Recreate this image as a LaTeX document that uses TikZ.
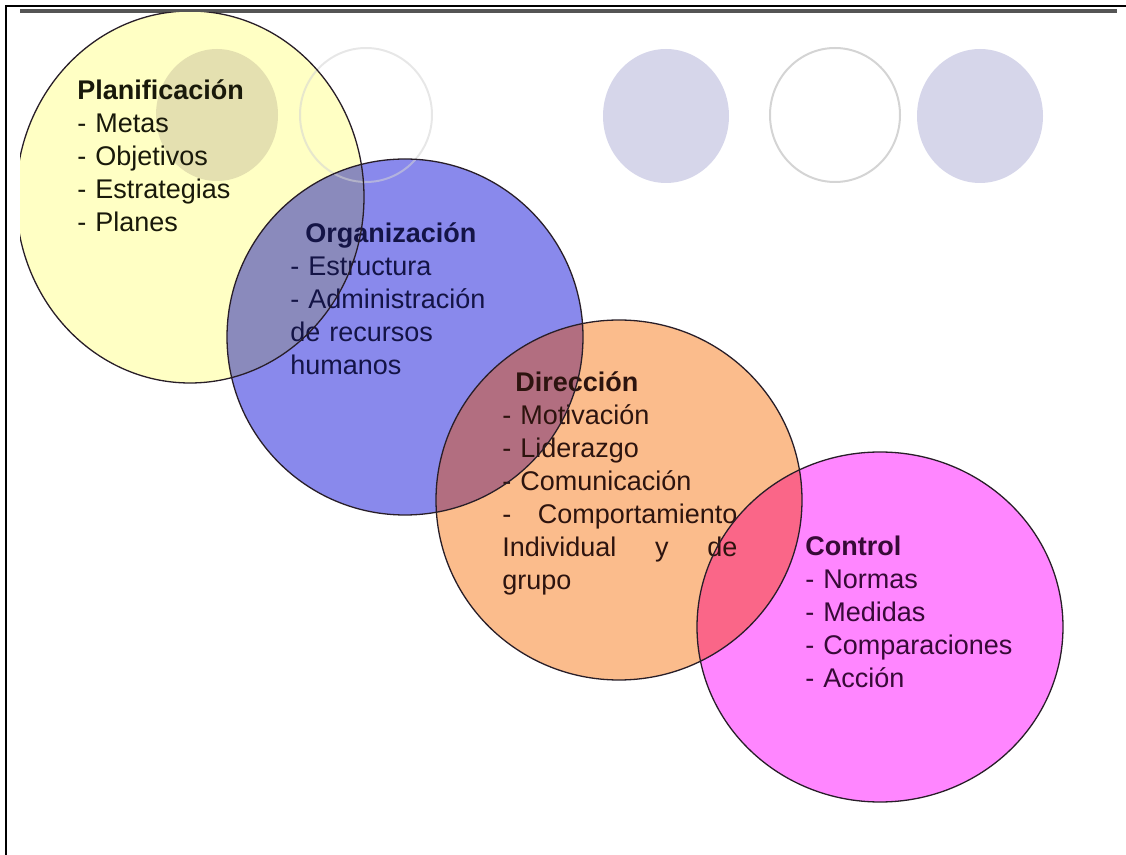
\documentclass[tikz,border=0pt]{standalone}
\usepackage{fontspec}
\setmainfont{Liberation Sans}

\definecolor{plancol}{RGB}{255,255,196}
\definecolor{orgcol}{RGB}{137,137,236}
\definecolor{dircol}{RGB}{251,188,140}
\definecolor{ctrlcol}{RGB}{255,134,255}
\definecolor{planorg}{RGB}{138,138,188}
\definecolor{orgdir}{RGB}{178,110,128}
\definecolor{dirctrl}{RGB}{250,102,136}
\definecolor{decocol}{RGB}{214,214,234}
\definecolor{decoplan}{RGB}{228,224,176}
\definecolor{ringcol}{RGB}{212,212,212}
\definecolor{edgecol}{RGB}{40,30,40}
\definecolor{barcol}{RGB}{85,85,85}
\definecolor{plantext}{RGB}{25,25,10}
\definecolor{orgtext}{RGB}{20,20,70}
\definecolor{dirtext}{RGB}{45,20,15}
\definecolor{ctrltext}{RGB}{55,10,55}

\tikzset{
  block/.style={anchor=base west, inner sep=0pt, align=left, text width=#1,
    font=\fontsize{13.5}{16.5}\selectfont},
  edge/.style={draw=edgecol, line width=0.65pt},
  ring/.style={draw=ringcol, line width=1pt},
}

\begin{document}
\begin{tikzpicture}[x=0.5pt,y=-0.5pt]
\useasboundingbox (0,0) rectangle (1126,855);

% page frame and top bar
\draw[line width=1pt] (6,855) -- (6,6) -- (1126,6);
\fill[barcol] (20,9) rectangle (1117,13);

\coordinate (cplan) at (190,197);
\coordinate (corg) at (405,337);
\coordinate (cdir) at (619,500);
\coordinate (cctrl) at (880,627);
\def\plan{(cplan) ellipse [x radius=174, y radius=186]}
\def\org{(corg) circle [radius=178]}
\def\dir{(cdir) ellipse [x radius=183, y radius=180]}
\def\ctrl{(cctrl) ellipse [x radius=183, y radius=175]}

\begin{scope}
\clip (20,13) rectangle (1117,855);

% background circles of the slide
\foreach \cx/\cy in {666/116,980/116}
  \fill[decocol] (\cx,\cy) ellipse [x radius=63, y radius=67];
\draw[ring] (835,115) ellipse [x radius=65, y radius=67];

% the four circles
\fill[plancol] \plan;
\fill[orgcol] \org;
\fill[dircol] \dir;
\fill[ctrlcol] \ctrl;

% overlaps
\begin{scope}
  \clip \plan;
  \fill[decoplan] (217,115) ellipse [x radius=61, y radius=66];
  \fill[planorg] \org;
\end{scope}
\begin{scope}
  \clip \org;
  \fill[orgdir] \dir;
\end{scope}
\begin{scope}
  \clip \dir;
  \fill[dirctrl] \ctrl;
\end{scope}
\draw[ring, opacity=0.55] (366,115) ellipse [x radius=66, y radius=67];

% texts
\node[block=100pt, text=plantext] (plantxt) at (77,100)
  {\textbf{Planificación}\\- Metas\\- Objetivos\\- Estrategias\\- Planes};
\node[block=105pt, text=orgtext] (orgtxt) at (290,243)
  {\hspace*{7.5pt}\textbf{Organización}\\- Estructura\\- Administración\\de recursos\\humanos};
\node[block=117.5pt, text=dirtext] (dirtxt) at (502,392)
  {\hspace*{6.5pt}\textbf{Dirección}\\- Motivación\\- Liderazgo\\- Comunicación\\-\hfill Comportamiento\\Individual\hfill y\hfill de\\grupo};
\node[block=110pt, text=ctrltext] (ctrltxt) at (805,556)
  {\textbf{Control}\\- Normas\\- Medidas\\- Comparaciones\\- Acción};

% outlines
\draw[edge] \plan;
\draw[edge] \org;
\draw[edge] \dir;
\draw[edge] \ctrl;
\end{scope}

\end{tikzpicture}
\end{document}
